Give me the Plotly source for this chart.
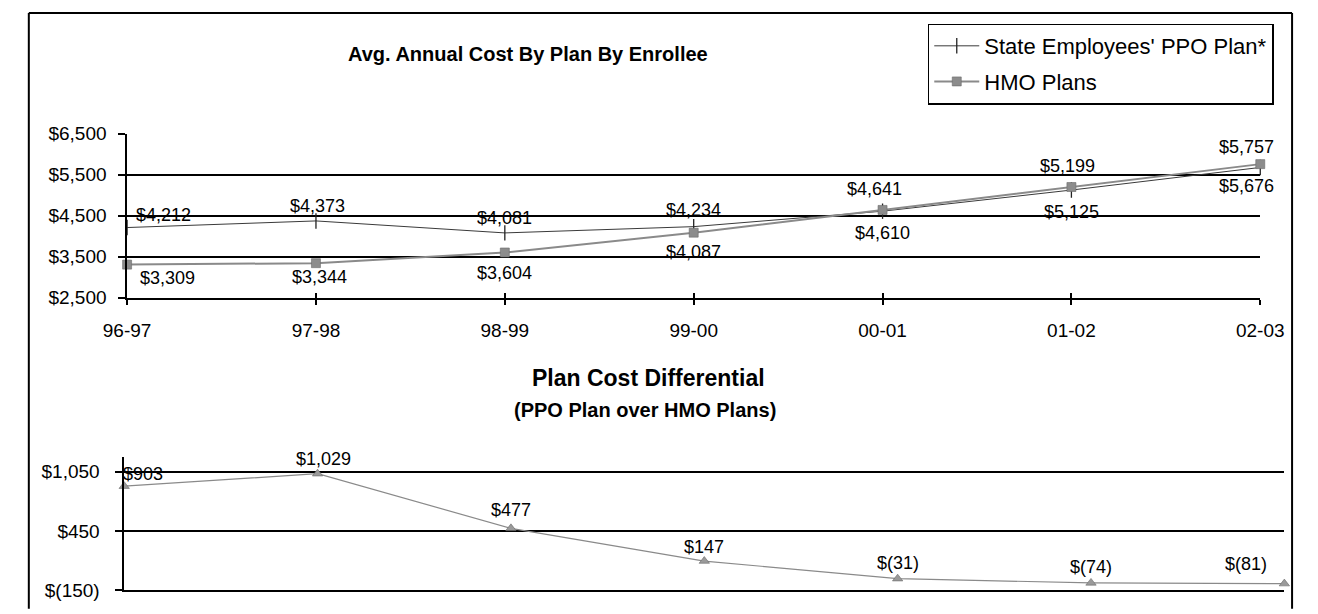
import plotly.graph_objects as go

W, H = 1318, 614

# ---------------- data ----------------
years = ["96-97", "97-98", "98-99", "99-00", "00-01", "01-02", "02-03"]
ppo = [4212, 4373, 4081, 4234, 4610, 5125, 5676]
hmo = [3309, 3344, 3604, 4087, 4641, 5199, 5757]
diff = [903, 1029, 477, 147, -31, -74, -81]

top_ticks = [2500, 3500, 4500, 5500, 6500]
top_ticktext = ["$2,500", "$3,500", "$4,500", "$5,500", "$6,500"]
bot_ticks = [-150, 450, 1050]
bot_ticktext = ["$(150)", "$450", "$1,050"]

# ---------------- label offsets (style: pixel shifts) ----------------
ppo_off = [(36, 13), (2, 15), (0, 15), (0, 17), (0, -22), (0, -22), (-14, -19)]
hmo_off = [(40, -13), (4, -14), (0, -21), (0, -19), (-8, 21), (-4, 21), (-14, 17)]
diff_off = [(19, 12), (6, 15), (0, 18), (0, 14), (0, 16), (0, 16), (-38, 20)]


def money(v):
    return f"${v:,}" if v >= 0 else f"$({-v:,})"


FONT = "Arial, Liberation Sans, sans-serif"


def px_x(p):
    return p / W


def px_y(p):
    return 1 - p / H


fig = go.Figure()

# top chart
fig.add_trace(go.Scatter(
    x=years, y=ppo, name="State Employees' PPO Plan*", mode="lines+markers",
    legendgroup="a",
    line=dict(color="#3a3a3a", width=1),
    marker=dict(symbol="line-ns", size=11, line=dict(color="#222", width=1.3)),
    xaxis="x", yaxis="y", cliponaxis=False))
fig.add_trace(go.Scatter(
    x=years, y=hmo, name="HMO Plans", mode="lines+markers",
    legendgroup="b",
    line=dict(color="#8a8a8a", width=2),
    marker=dict(symbol="square", size=9, color="#8c8c8c", line=dict(color="#6a6a6a", width=0.6)),
    xaxis="x", yaxis="y", cliponaxis=False))

# bottom chart
fig.add_trace(go.Scatter(
    x=years, y=diff, name="Differential", mode="lines+markers", showlegend=False,
    line=dict(color="#8a8a8a", width=1.2),
    marker=dict(symbol="triangle-up", size=9, color="#9a9a9a", line=dict(color="#6a6a6a", width=0.6)),
    xaxis="x2", yaxis="y2", cliponaxis=False))

annotations = []
lab_font = dict(family=FONT, size=18, color="black")
for i, yr in enumerate(years):
    for vals, offs, xa, ya in ((ppo, ppo_off, "x", "y"), (hmo, hmo_off, "x", "y"),
                               (diff, diff_off, "x2", "y2")):
        dx, dy = offs[i]
        annotations.append(dict(
            x=yr, y=vals[i], xref=xa, yref=ya, text=money(vals[i]), showarrow=False,
            xshift=dx, yshift=dy, font=lab_font, xanchor="center", yanchor="middle"))

annotations += [
    dict(x=px_x(523), y=px_y(46), xref="paper", yref="paper", showarrow=False,
         text="<b>Avg. Annual Cost By Plan By Enrollee</b>",
         font=dict(family=FONT, size=20, color="black"), xanchor="center", yanchor="middle"),
    dict(x=px_x(648), y=px_y(381), xref="paper", yref="paper", showarrow=False,
         text="<b>Plan Cost Differential</b>",
         font=dict(family=FONT, size=23, color="black"), xanchor="center", yanchor="middle"),
    dict(x=px_x(644), y=px_y(414), xref="paper", yref="paper", showarrow=False,
         text="<b>(PPO Plan over HMO Plans)</b>",
         font=dict(family=FONT, size=20, color="black"), xanchor="center", yanchor="middle"),
]

shapes = [
    dict(type="line", xref="paper", yref="paper", x0=px_x(5), x1=px_x(5), y0=px_y(3), y1=px_y(620),
         line=dict(color="black", width=2)),
    dict(type="line", xref="paper", yref="paper", x0=px_x(5), x1=px_x(1316), y0=px_y(3), y1=px_y(3),
         line=dict(color="black", width=2)),
    dict(type="line", xref="paper", yref="paper", x0=px_x(1316), x1=px_x(1316), y0=px_y(3), y1=px_y(620),
         line=dict(color="black", width=2)),
]

tick_font = dict(family=FONT, size=19, color="black")

fig.update_layout(
    width=W, height=H, margin=dict(l=0, r=0, t=0, b=0),
    paper_bgcolor="white", plot_bgcolor="white",
    showlegend=True,
    legend=dict(x=px_x(1297), y=px_y(14), xanchor="right", yanchor="top",
                bordercolor="black", borderwidth=1.5, bgcolor="white",
                font=dict(family=FONT, size=22, color="black"),
                tracegroupgap=4, itemwidth=45),
    annotations=annotations, shapes=shapes,
    xaxis=dict(domain=[px_x(107), px_x(1283)], type="category", range=[0, 6],
               anchor="y", showline=True, linecolor="black", linewidth=1.5,
               ticks="outside", ticklen=5, tickcolor="black", tickwidth=1.5,
               tickfont=tick_font, showgrid=False, zeroline=False, ticklabelstandoff=10),
    xaxis3=dict(type="category", range=[0, 6], overlaying="x", anchor="y",
                showline=False, ticks="inside", ticklen=5, tickcolor="black", tickwidth=1.5,
                showticklabels=False, showgrid=False, zeroline=False, side="bottom",
                matches="x"),
    yaxis=dict(domain=[px_y(298), px_y(128)], range=[2500, 6500], anchor="x",
               tickvals=top_ticks, ticktext=top_ticktext, tickfont=tick_font,
               showline=True, linecolor="black", linewidth=1.5,
               ticks="outside", ticklen=7, tickcolor="black", tickwidth=1.5,
               showgrid=True, gridcolor="black", gridwidth=1.5, zeroline=False,
               ticklabelstandoff=8),
    xaxis2=dict(domain=[px_x(104), px_x(1308)], type="category", range=[0, 6],
                anchor="y2", showline=True, linecolor="black", linewidth=1.5,
                ticks="", showticklabels=False, showgrid=False, zeroline=False),
    yaxis2=dict(domain=[px_y(601), px_y(463)], range=[-150, 1196], anchor="x2",
                tickvals=bot_ticks, ticktext=bot_ticktext, tickfont=tick_font,
                showline=True, linecolor="black", linewidth=1.5,
                ticks="outside", ticklen=7, tickcolor="black", tickwidth=1.5,
                showgrid=True, gridcolor="black", gridwidth=1.5, zeroline=False,
                ticklabelstandoff=12),
)

# invisible trace to activate the overlaid tick axis (xaxis3)
fig.add_trace(go.Scatter(x=years, y=ppo, xaxis="x3", yaxis="y", mode="lines",
                         line=dict(width=0), showlegend=False, hoverinfo="skip", opacity=0))

fig.write_html("out.html")
